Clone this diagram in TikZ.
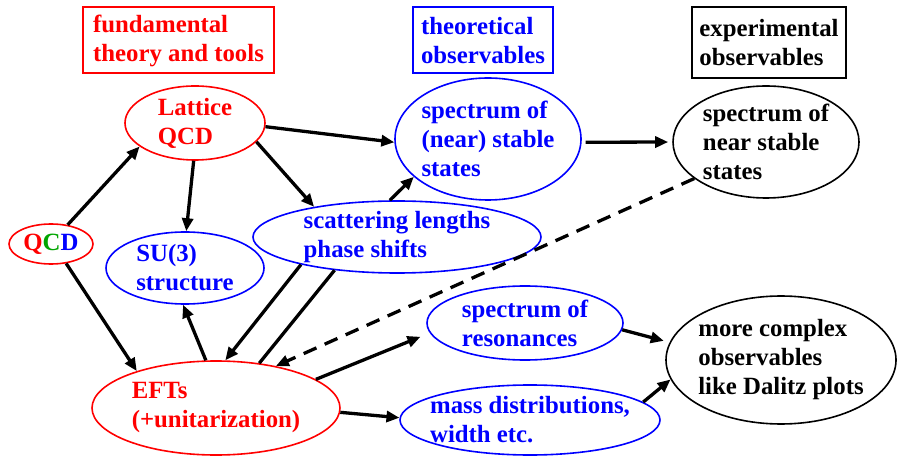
\documentclass[tikz,border=0pt]{standalone}
\usepackage{fontspec}
\setmainfont{Liberation Serif}
\usepackage{xcolor}
\usetikzlibrary{shapes.geometric, arrows.meta, positioning}
\definecolor{qcdgreen}{RGB}{0,165,0}

\begin{document}
\begin{tikzpicture}[x=0.5pt, y=-0.5pt,
  font=\fontsize{12.4}{14.5}\selectfont\bfseries,
  oval/.style={ellipse, draw, line width=0.8pt, inner sep=-5pt, align=left},
  lbox/.style={rectangle, draw, line width=1pt, inner sep=0pt, align=left},
  arr/.style={-{Triangle[length=6.5pt, width=5.5pt]}, line width=1.65pt}]
\useasboundingbox (0,0) rectangle (897,458);

\node[lbox, red, minimum width=95.5pt, minimum height=33pt] (fund) at (178.5,40.5) {fundamental\\theory and tools};
\node[lbox, blue, minimum width=70pt, minimum height=33pt] (theo) at (483,40.5) {theoretical\\observables};
\node[lbox, black, minimum width=77pt, minimum height=35.5pt] (expe) at (769,42.5) {experimental\\observables};

\node[oval, red, minimum width=70pt, minimum height=37pt] (lattice) at (195,123) {Lattice\\QCD};
\node[oval, blue, minimum width=93pt, minimum height=61pt] (nearstab) at (488,139) {spectrum of\\(near) stable\\states};
\node[oval, black, minimum width=93pt, minimum height=56pt] (expstab) at (766,142) {spectrum of\\near stable\\states};
\node[oval, red, minimum width=42pt, minimum height=20pt] (qcd) at (51,244) {\textcolor{red}{Q}\textcolor{qcdgreen}{C}\textcolor{blue}{D}};
\node[oval, blue, minimum width=79pt, minimum height=36pt] (suthree) at (185,268) {SU(3)\\structure};
\node[oval, blue, minimum width=144pt, minimum height=36pt] (scatt) at (397,237) {scattering lengths\\phase shifts};
\node[oval, red, minimum width=124pt, minimum height=47pt] (efts) at (216,408) {EFTs\\(+unitarization)};
\node[oval, blue, minimum width=98pt, minimum height=37pt] (reson) at (525,323) {spectrum of\\resonances};
\node[oval, blue, minimum width=130pt, minimum height=35pt] (massd) at (530,420) {mass distributions,\\width etc.};
\node[oval, black, minimum width=115pt, minimum height=64pt] (complex) at (781,360) {more complex\\observables\\like Dalitz plots};

\draw[arr] (qcd.49) -- (lattice.203);
\draw[arr] (qcd.308) -- (efts.155);
\draw[arr] (lattice.268) -- (suthree.88);
\draw[arr] (lattice.357) -- (nearstab.182);
\draw[arr] (lattice.343) -- (scatt.160);
\draw[arr] (scatt.101) -- (nearstab.207);
\draw[arr] (scatt.196) -- (efts.79);
\draw[line width=1.65pt] (scatt.208) -- (efts.46);
\draw[arr] (efts.102) -- (suthree.267);
\draw[arr, dash pattern=on 7pt off 4.5pt] (expstab.207) -- (efts.35);
\draw[arr, shorten >=5pt] (efts.16) -- (reson.186);
\draw[arr] (efts.358) -- (massd.179);
\draw[arr, shorten <=2pt, shorten >=2pt] (nearstab.358) -- (expstab.180);
\draw[arr, shorten >=3pt] (reson.356) -- (complex.171);
\draw[arr] (massd.9) -- (complex.190);
\end{tikzpicture}
\end{document}
